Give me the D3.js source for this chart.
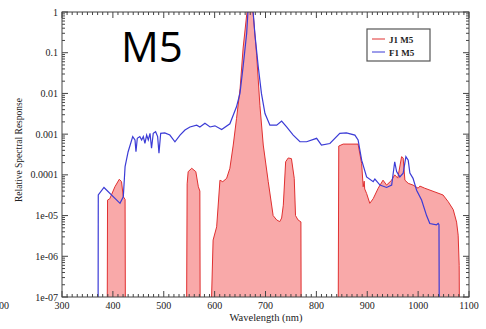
<!DOCTYPE html>
<html>
<head>
<meta charset="utf-8">
<script src="https://cdn.jsdelivr.net/npm/d3@7"></script>
<style>
  body { margin: 0; background: #fff; }
  text { font-family: "Liberation Serif", "DejaVu Serif", serif; fill: #222; }
</style>
</head>
<body>
<div class="canvas"></div>
<script>
var margin = {top: 12, right: 17, bottom: 32, left: 62},
    width = 486 - margin.left - margin.right,
    height = 329 - margin.top - margin.bottom;

// J1 M5 bands [wavelength nm, relative response]
var j1Band1 = [[389,1e-7],[389.5,2.4e-5],[394,2.6e-5],[404,5.1e-5],[412.6,7.8e-5],[417,6.8e-5],[420.5,2.9e-5],[424,2.5e-5],[424.5,1e-7]];
var j1Band2 = [[545,1e-7],[546,6e-5],[548,1.2e-4],[555,1.45e-4],[563,1.2e-4],[568,5.1e-5],[571,4e-5],[571.5,1e-7]];
var j1Band3 = [[594,1e-7],[597,2.5e-6],[604,5.3e-6],[610.5,7.4e-5],[616,6.8e-5],[623.6,8.2e-5],[630,1.45e-4],[636.6,5.4e-4],
  [643,2.4e-3],[650,0.013],[656,0.13],[663,0.85],[665,1.3],[674,1.3],[676,0.85],[682.6,0.087],[689,5.1e-3],[695.6,5.4e-4],
  [705.4,6.8e-5],[715,1.0e-5],[722,7.8e-6],[728,7.1e-6],[731.7,8.7e-6],[735,1.8e-5],[739.6,2.1e-4],[744.7,2.6e-4],[751,2.5e-4],
  [756.5,8.2e-5],[759,1.0e-5],[764,7.8e-6],[769.6,7e-6],[770,1e-7]];
var j1Band4 = [[843,1e-7],[844,5.1e-4],[852.7,5.7e-4],[870,5.7e-4],[882,5.7e-4],[889,1.9e-4],[892,5.1e-5],[894,7e-5],[895,4.5e-5],
  [898.7,3.5e-5],[905,2.0e-5],[911.7,2.6e-5],[921.5,4.7e-5],[931,7.4e-5],[938,5.6e-5],[948,7.4e-5],[954,1.0e-4],[960,8.3e-5],
  [967.5,2.8e-4],[970.6,2.6e-4],[974,7.4e-5],[980.5,6.2e-5],[990,5.6e-5],[1000,4.7e-5],[1003.5,5.3e-5],[1013,4.7e-5],
  [1033,3.8e-5],[1049,3.2e-5],[1059,2.2e-5],[1069,1.4e-5],[1075.6,6.9e-6],[1078.7,3.3e-6],[1080.7,6e-7],[1081,1e-7]];
var j1Bands = [j1Band1, j1Band2, j1Band3, j1Band4];

// F1 M5 [wavelength nm, relative response]
var f1 = [[371,1e-7],[371.3,3.2e-5],[382.5,4.9e-5],[414,2.0e-5],[420.5,2.9e-5],[424,1.6e-4],[430,3.7e-4],[439,8.7e-4],
  [443.5,7.2e-4],[445.4,3.7e-4],[448,7.9e-4],[453,8.7e-4],[456.6,7.2e-4],[459.8,8.7e-4],[463,5.9e-4],[466.4,9.5e-4],
  [469.6,7.2e-4],[473,1.05e-3],[476,4.5e-4],[479.4,1.05e-3],[484,1.15e-3],[488,8.7e-4],[490.6,3.4e-4],[494,1.05e-3],
  [502,1.07e-3],[512,9.5e-4],[522,6.5e-4],[532,9.5e-4],[541.7,1.26e-3],[551.5,1.5e-3],[564.7,1.66e-3],[571,1.5e-3],
  [581,1.85e-3],[591,1.5e-3],[600.6,1.6e-3],[613.8,1.3e-3],[630,1.8e-3],[643,4.7e-3],[649.8,0.01],[656,0.046],[663,0.30],
  [666,1.3],[675,1.3],[679,0.30],[685.7,0.046],[692,0.01],[699,3.2e-3],[708.7,1.66e-3],[722,1.66e-3],[731.7,2.1e-3],
  [741.5,1.5e-3],[754.5,9.5e-4],[767.7,6.5e-4],[780.8,6.5e-4],[800.5,7.9e-4],[810,5.4e-4],[826.6,5.9e-4],[846,1.05e-3],
  [859,1.07e-3],[875.7,9.5e-4],[882,7.2e-4],[889,2.3e-4],[898.7,8.9e-5],[911.7,6.8e-5],[915,7.9e-5],[925,5.6e-5],
  [938,4.9e-5],[948,5.6e-5],[954,2.1e-4],[957.7,1.2e-4],[964,8.9e-5],[970.6,1.1e-4],[976,2.8e-4],[980.5,2.3e-4],
  [983.8,1.1e-4],[990,8.2e-5],[997,4.2e-5],[1006.8,2.4e-5],[1016.6,1.0e-5],[1023,6.4e-6],[1036,5.9e-6],[1039.4,6.4e-6],
  [1041,6e-6],[1041.4,1e-7]];

var xTicks = [300, 400, 500, 600, 700, 800, 900, 1000, 1100];
var yTicks = [1, 0.1, 0.01, 0.001, 0.0001, 1e-5, 1e-6, 1e-7];
var yTickLabels = ["1", "0.1", "0.01", "0.001", "0.0001", "1e-05", "1e-06", "1e-07"];
var seriesNames = ["J1 M5", "F1 M5"];

var svg = d3.select(".canvas").append("svg")
    .attr("width", width + margin.left + margin.right)
    .attr("height", height + margin.top + margin.bottom);

var g = svg.append("g")
    .attr("transform", "translate(" + margin.left + "," + margin.top + ")");

var x = d3.scaleLinear().domain([300, 1100]).range([0, width]);
var y = d3.scaleLog().domain([1e-7, 1]).range([height, 0]);

g.append("clipPath").attr("id", "clip")
  .append("rect").attr("width", width).attr("height", height);

var plot = g.append("g").attr("clip-path", "url(#clip)");

var area = d3.area()
    .x(function(d) { return x(d[0]); })
    .y0(height)
    .y1(function(d) { return y(d[1]); });
var line = d3.line()
    .x(function(d) { return x(d[0]); })
    .y(function(d) { return y(d[1]); });

plot.selectAll(".band").data(j1Bands).enter().append("path")
    .attr("class", "band")
    .attr("d", area)
    .style("fill", "#f9a9a9")
    .style("stroke", "none");
plot.selectAll(".bandline").data(j1Bands).enter().append("path")
    .attr("class", "bandline")
    .attr("d", line)
    .style("fill", "none")
    .style("stroke", "#e03030")
    .style("stroke-width", "1px");

plot.append("path")
    .datum(f1)
    .attr("d", line)
    .style("fill", "none")
    .style("stroke", "#3b3bd6")
    .style("stroke-width", "1.2px");

// frame
g.append("rect")
    .attr("width", width).attr("height", height)
    .style("fill", "none").style("stroke", "#444").style("stroke-width", "1px");

// x ticks, inward on bottom and top
var xMinor = d3.range(300, 1101, 10);
xMinor.forEach(function(v) {
  var len = v % 100 === 0 ? 6 : 3;
  g.append("line").attr("x1", x(v)).attr("x2", x(v)).attr("y1", height).attr("y2", height - len)
    .style("stroke", "#444");
  g.append("line").attr("x1", x(v)).attr("x2", x(v)).attr("y1", 0).attr("y2", len)
    .style("stroke", "#444");
});
g.selectAll(".xlabel").data(xTicks).enter().append("text")
    .attr("class", "xlabel")
    .attr("x", function(d) { return x(d); })
    .attr("y", height + 12)
    .attr("text-anchor", "middle")
    .style("font-size", "10px")
    .text(function(d) { return d; });

// y ticks, log minor
var yMinor = [];
for (var e = -7; e < 0; e++)
  for (var m = 1; m < 10; m++) yMinor.push(m * Math.pow(10, e));
yMinor.push(1);
yMinor.forEach(function(v) {
  var major = Math.abs(Math.log10(v) - Math.round(Math.log10(v))) < 1e-9;
  var len = major ? 6 : 3;
  g.append("line").attr("x1", 0).attr("x2", len).attr("y1", y(v)).attr("y2", y(v)).style("stroke", "#444");
  g.append("line").attr("x1", width).attr("x2", width - len).attr("y1", y(v)).attr("y2", y(v)).style("stroke", "#444");
});
g.selectAll(".ylabel").data(yTicks).enter().append("text")
    .attr("class", "ylabel")
    .attr("x", -4)
    .attr("y", function(d) { return y(d) + 3.5; })
    .attr("text-anchor", "end")
    .style("font-size", "10px")
    .text(function(d, i) { return yTickLabels[i]; });

// axis titles
svg.append("text")
    .attr("transform", "translate(22,150) rotate(-90)")
    .attr("text-anchor", "middle")
    .style("font-size", "9.5px")
    .text("Relative Spectral Response");
svg.append("text")
    .attr("x", 266).attr("y", 321)
    .attr("text-anchor", "middle")
    .style("font-size", "10.5px")
    .text("Wavelength (nm)");

// cropped label from the neighbouring panel
svg.append("text")
    .attr("x", -1).attr("y", 309)
    .style("font-size", "10px")
    .text("00");

// big panel title
svg.append("text")
    .attr("x", 121).attr("y", 62)
    .style("font-family", "'Open Sans', sans-serif")
    .style("font-size", "42px")
    .style("fill", "#000")
    .text("M5");

// legend
var leg = svg.append("g").attr("transform", "translate(367,29)");
leg.append("rect").attr("width", 63).attr("height", 32)
    .style("fill", "#fff").style("stroke", "#555").style("stroke-width", "1.2px");
var legColors = ["#e03030", "#3b3bd6"];
seriesNames.forEach(function(name, i) {
  leg.append("line").attr("x1", 5).attr("x2", 18).attr("y1", 10 + i * 13).attr("y2", 10 + i * 13)
    .style("stroke", legColors[i]).style("stroke-width", "1px");
  leg.append("text").attr("x", 22).attr("y", 13.5 + i * 13)
    .style("font-size", "9px").style("font-weight", "bold")
    .text(name);
});
</script>
</body>
</html>
